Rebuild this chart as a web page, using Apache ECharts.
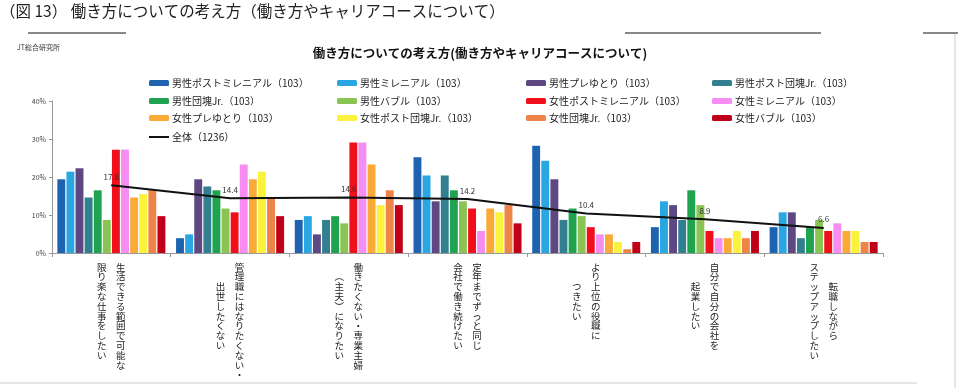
<!DOCTYPE html>
<html><head><meta charset="utf-8">
<script src="https://cdn.jsdelivr.net/npm/echarts@6/dist/echarts.min.js"></script>
<style>html,body{margin:0;padding:0;background:#fff}#c{width:960px;height:388px}</style>
</head><body><div id="c"></div>
<script>
// ---- data ----
const categories = [
  '生活できる範囲で可能な限り楽な仕事をしたい',
  '管理職にはなりたくない・出世したくない',
  '働きたくない・専業主婦（主夫）になりたい',
  '定年までずっと同じ会社で働き続けたい',
  'より上位の役職につきたい',
  '自分で自分の会社を起業したい',
  '転職しながらステップアップしたい'
];
// vertical tick label columns (right column read first, then left column)
const labelRightCol = ['生活できる範囲で可能な','管理職にはなりたくない・','働きたくない・専業主婦','定年までずっと同じ','より上位の役職に','自分で自分の会社を','転職しながら'];
const labelLeftCol  = ['限り楽な仕事をしたい','出世したくない','︵主夫︶になりたい','会社で働き続けたい','つきたい','起業したい','ステップアップしたい'];
const yTicks = [0, 10, 20, 30, 40];

const seriesNames = [
  '男性ポストミレニアル（103）','男性ミレニアル（103）','男性プレゆとり（103）','男性ポスト団塊Jr.（103）',
  '男性団塊Jr.（103）','男性バブル（103）','女性ポストミレニアル（103）','女性ミレニアル（103）',
  '女性プレゆとり（103）','女性ポスト団塊Jr.（103）','女性団塊Jr.（103）','女性バブル（103）'
];
const totalName = '全体（1236）';

const malePostMillennial   = [19.4, 3.9,  8.7, 25.2, 28.2,  6.8,  6.8];
const maleMillennial       = [21.4, 4.9,  9.7, 20.4, 24.3, 13.6, 10.7];
const malePreYutori        = [22.3, 19.4, 4.9, 13.6, 19.4, 12.6, 10.7];
const malePostDankaiJr     = [14.6, 17.5, 8.7, 20.4,  8.7,  8.7,  3.9];
const maleDankaiJr         = [16.5, 16.5, 9.7, 16.5, 11.7, 16.5,  6.8];
const maleBubble           = [ 8.7, 11.7, 7.8, 13.6,  9.7, 12.6,  8.7];
const femalePostMillennial = [27.2, 10.7, 29.1, 11.7, 6.8,  5.8,  5.8];
const femaleMillennial     = [27.2, 23.3, 29.1,  5.8, 4.9,  3.9,  7.8];
const femalePreYutori      = [14.6, 19.4, 23.3, 11.7, 4.9,  3.9,  5.8];
const femalePostDankaiJr   = [15.5, 21.4, 12.6, 10.7, 2.9,  5.8,  5.8];
const femaleDankaiJr       = [16.5, 14.6, 16.5, 12.6, 1.0,  3.9,  2.9];
const femaleBubble         = [ 9.7,  9.7, 12.6,  7.8, 2.9,  5.8,  2.9];
const totalAll             = [17.8, 14.4, 14.6, 14.2, 10.4, 8.9,  6.6];

const seriesData = [malePostMillennial, maleMillennial, malePreYutori, malePostDankaiJr,
  maleDankaiJr, maleBubble, femalePostMillennial, femaleMillennial,
  femalePreYutori, femalePostDankaiJr, femaleDankaiJr, femaleBubble];

// ---- styles ----
const colors = ['#1f63b0','#2aa7e2','#5d4884','#327f90','#20a34f','#8ac554',
  '#f20f1c','#f58df2','#f9aa37','#fbf23c','#ef8449','#bf0018'];
const FONT = '"Noto Sans CJK JP", "Noto Sans", sans-serif';

function verticalLabel(idx) {
  const R = Array.from(labelRightCol[idx]);
  const L = Array.from(labelLeftCol[idx]);
  const n = Math.max(R.length, L.length);
  const pr = Math.floor((n - R.length) / 2);
  const pl = Math.floor((n - L.length) / 2);
  const lines = [];
  for (let i = 0; i < n; i++) {
    const r = R[i - pr] || '　';
    const l = L[i - pl] || '　';
    lines.push(l + '　' + r);
  }
  return lines.join('\n');
}

// legend layout: [left, top]
const legendCols = [144, 332, 521, 707];
const legendRows = [72, 90, 107, 124];
const allNames = seriesNames.concat([totalName]);
const legends = allNames.map((nm, i) => {
  const isLine = nm === totalName;
  return {
    data: [isLine ? { name: nm, icon: 'rect' } : nm],
    left: legendCols[i % 4],
    top: legendRows[Math.floor(i / 4)] + (isLine ? 2 : 0),
    itemWidth: 20, itemHeight: isLine ? 2 : 6, itemGap: 0,
    selectedMode: false,
    textStyle: { fontFamily: FONT, fontSize: 10, color: '#222', lineHeight: 12, padding: [0,0,0,-2] }
  };
});

const series = seriesData.map((d, i) => ({
  name: seriesNames[i], type: 'bar', data: d,
  barCategoryGap: '9%', barGap: '15%',
  itemStyle: { color: colors[i] }
}));
series.push({
  name: totalName, type: 'line', data: totalAll, symbol: 'circle', symbolSize: 1, z: 10,
  lineStyle: { color: '#111', width: 2 }, itemStyle: { color: '#111' },
  label: { show: true, position: 'top', distance: 4, fontFamily: FONT, fontSize: 8, color: '#333',
    formatter: p => p.value.toFixed(1) }
});

const chart = echarts.init(document.getElementById('c'));
chart.setOption({
  animation: false,
  backgroundColor: '#fff',
  title: {
    text: '働き方についての考え方(働き方やキャリアコースについて)',
    left: 475, top: 42, textAlign: 'center',
    textStyle: { fontFamily: FONT, fontSize: 12.5, fontWeight: 'bold', color: '#111' }
  },
  legend: legends,
  grid: { left: 52, right: 77, top: 101, bottom: 135 },
  xAxis: {
    type: 'category', data: categories,
    axisLine: { lineStyle: { color: '#999' } },
    axisTick: { show: true, length: 4, lineStyle: { color: '#999' } },
    axisLabel: {
      interval: 0, margin: 9, fontFamily: FONT, fontSize: 9.5, lineHeight: 9.8,
      color: '#222', verticalAlign: 'top', align: 'center',
      formatter: (v, idx) => verticalLabel(idx)
    }
  },
  yAxis: {
    type: 'value', min: yTicks[0], max: yTicks[yTicks.length - 1], interval: 10,
    splitLine: { show: false },
    axisLine: { show: true, lineStyle: { color: '#999' } },
    axisTick: { show: true, length: 3, lineStyle: { color: '#999' } },
    axisLabel: { fontFamily: FONT, fontSize: 7, color: '#444', margin: 6, formatter: '{value}%' }
  },
  series: series,
  graphic: [
    { type: 'text', left: 0, top: 3, style: { text: '（図 13） 働き方についての考え方（働き方やキャリアコースについて）',
      font: '15.5px ' + FONT, fill: '#222' } },
    { type: 'line', shape: { x1: 28, y1: 33, x2: 126, y2: 33 }, style: { stroke: '#888', lineWidth: 2 } },
    { type: 'line', shape: { x1: 625, y1: 33, x2: 821, y2: 33 }, style: { stroke: '#888', lineWidth: 2 } },
    { type: 'line', shape: { x1: 923, y1: 33, x2: 958, y2: 33 }, style: { stroke: '#888', lineWidth: 2 } },
    { type: 'text', left: 17, top: 44, style: { text: 'JT総合研究所', font: '7px ' + FONT, fill: '#333' } },
    { type: 'line', shape: { x1: 955, y1: 34, x2: 955, y2: 388 }, style: { stroke: '#ccc', lineWidth: 1 } },
    { type: 'line', shape: { x1: 0, y1: 383, x2: 917, y2: 383 }, style: { stroke: '#ddd', lineWidth: 1.5 } }
  ]
});
</script>
</body></html>
